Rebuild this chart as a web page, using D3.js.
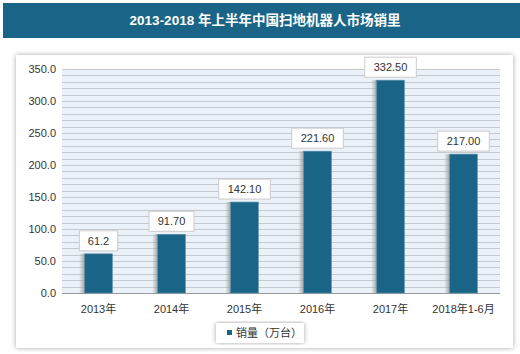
<!DOCTYPE html>
<meta charset="utf-8">
<style>
body { margin: 0; background: #fff; }
text { font-family: "Liberation Sans", "Noto Sans CJK SC", sans-serif; }
</style>
<body>
<script src="https://cdn.jsdelivr.net/npm/d3@7"></script>
<script>

var categories = ["2013年", "2014年", "2015年", "2016年", "2017年", "2018年1-6月"];
var sales = [61.2, 91.7, 142.1, 221.6, 332.5, 217.0];
var labels = ["61.2", "91.70", "142.10", "221.60", "332.50", "217.00"];
var yTicks = [0, 50, 100, 150, 200, 250, 300, 350];

var width = 520, height = 354;
var blue = "#1a6587";

var svg = d3.select("body").append("svg")
    .attr("width", width)
    .attr("height", height);

var defs = svg.append("defs");

var f = defs.append("filter").attr("id", "shadow")
    .attr("x", "-10%").attr("y", "-10%").attr("width", "120%").attr("height", "120%");
f.append("feDropShadow").attr("dx", 0).attr("dy", 0)
    .attr("stdDeviation", 2.5).attr("flood-color", "#000").attr("flood-opacity", 0.35);

var g1 = defs.append("linearGradient").attr("id", "barShadow");
g1.append("stop").attr("offset", "0%").attr("stop-color", "#bbb").attr("stop-opacity", 0.2);
g1.append("stop").attr("offset", "100%").attr("stop-color", "#888").attr("stop-opacity", 0.8);

// title bar
svg.append("rect")
    .attr("x", 3).attr("y", 3)
    .attr("width", width - 3).attr("height", 35)
    .attr("fill", blue);
svg.append("text")
    .attr("x", 265).attr("y", 25)
    .attr("text-anchor", "middle")
    .attr("fill", "#fff")
    .style("font-size", "13.5px")
    .style("font-weight", "bold")
    .text("2013-2018 年上半年中国扫地机器人市场销里");

// chart panel
svg.append("rect")
    .attr("x", 16).attr("y", 55)
    .attr("width", 497).attr("height", 293)
    .attr("fill", "#fff")
    .attr("filter", "url(#shadow)");

var margin = {left: 62, right: 500, top: 69, bottom: 293};

var x = d3.scaleBand()
    .domain(categories)
    .range([margin.left, margin.right])
    .paddingInner(0.62)
    .paddingOuter(0.31);

var y = d3.scaleLinear()
    .domain([0, 350])
    .range([margin.bottom, margin.top]);

// plot background
svg.append("rect")
    .attr("x", margin.left).attr("y", margin.top)
    .attr("width", margin.right - margin.left)
    .attr("height", margin.bottom - margin.top)
    .attr("fill", "#eaf1f8");

svg.append("g").selectAll("line")
    .data(d3.range(0, 351, 10))
    .enter().append("line")
      .attr("x1", margin.left).attr("x2", margin.right)
      .attr("y1", function(d) { return Math.round(y(d)) + 0.5; })
      .attr("y2", function(d) { return Math.round(y(d)) + 0.5; })
      .attr("stroke", "#c4c9ce")
      .attr("stroke-width", 1);

// y axis
var yAxis = svg.append("g")
    .attr("transform", "translate(" + margin.left + ",0)")
    .call(d3.axisLeft(y).tickValues(yTicks).tickFormat(d3.format(".1f")).tickSize(0).tickPadding(6));
yAxis.select(".domain").remove();
yAxis.selectAll("text").attr("fill", "#333").style("font-size", "11px");

// x axis
svg.append("line")
    .attr("x1", margin.left).attr("x2", margin.right)
    .attr("y1", margin.bottom + 0.5).attr("y2", margin.bottom + 0.5)
    .attr("stroke", "#999");

var xAxis = svg.append("g")
    .attr("transform", "translate(0," + margin.bottom + ")")
    .call(d3.axisBottom(x).tickSize(0).tickPadding(12));
xAxis.select(".domain").remove();
xAxis.selectAll("text").attr("fill", "#333").style("font-size", "11px");

// bar shadows
svg.append("g").selectAll("rect")
    .data(sales)
    .enter().append("rect")
      .attr("x", function(d, i) { return x(categories[i]) - 5; })
      .attr("y", function(d) { return y(d); })
      .attr("width", 5)
      .attr("height", function(d) { return y(0) - y(d); })
      .attr("fill", "url(#barShadow)");

// bars
svg.append("g").selectAll("rect")
    .data(sales)
    .enter().append("rect")
      .attr("x", function(d, i) { return x(categories[i]); })
      .attr("y", function(d) { return y(d); })
      .attr("width", x.bandwidth())
      .attr("height", function(d) { return y(0) - y(d); })
      .attr("fill", blue)
      .attr("stroke", "#5b8fa8")
      .attr("stroke-width", 0.6);

// value labels
var lab = svg.append("g").selectAll("g")
    .data(sales)
    .enter().append("g")
      .attr("transform", function(d, i) {
        return "translate(" + (x(categories[i]) + x.bandwidth() / 2) + "," + (y(d) - 13) + ")";
      });

lab.append("rect")
    .attr("x", function(d, i) { return -(labels[i].length * 3.3 + 6); })
    .attr("y", -10)
    .attr("width", function(d, i) { return 2 * (labels[i].length * 3.3 + 6); })
    .attr("height", 20)
    .attr("fill", "#fff")
    .attr("stroke", "#ccc");

lab.append("text")
    .attr("text-anchor", "middle")
    .attr("dy", "0.35em")
    .attr("fill", "#333")
    .style("font-size", "11px")
    .text(function(d, i) { return labels[i]; });

// legend
svg.append("rect")
    .attr("x", 216).attr("y", 323)
    .attr("width", 88).attr("height", 20)
    .attr("fill", "#fff")
    .attr("filter", "url(#shadow)");
svg.append("rect")
    .attr("x", 227).attr("y", 330)
    .attr("width", 5).attr("height", 5)
    .attr("fill", blue);
svg.append("text")
    .attr("x", 236).attr("y", 337)
    .attr("fill", "#333")
    .style("font-size", "11px")
    .text("销量（万台）");

</script>
